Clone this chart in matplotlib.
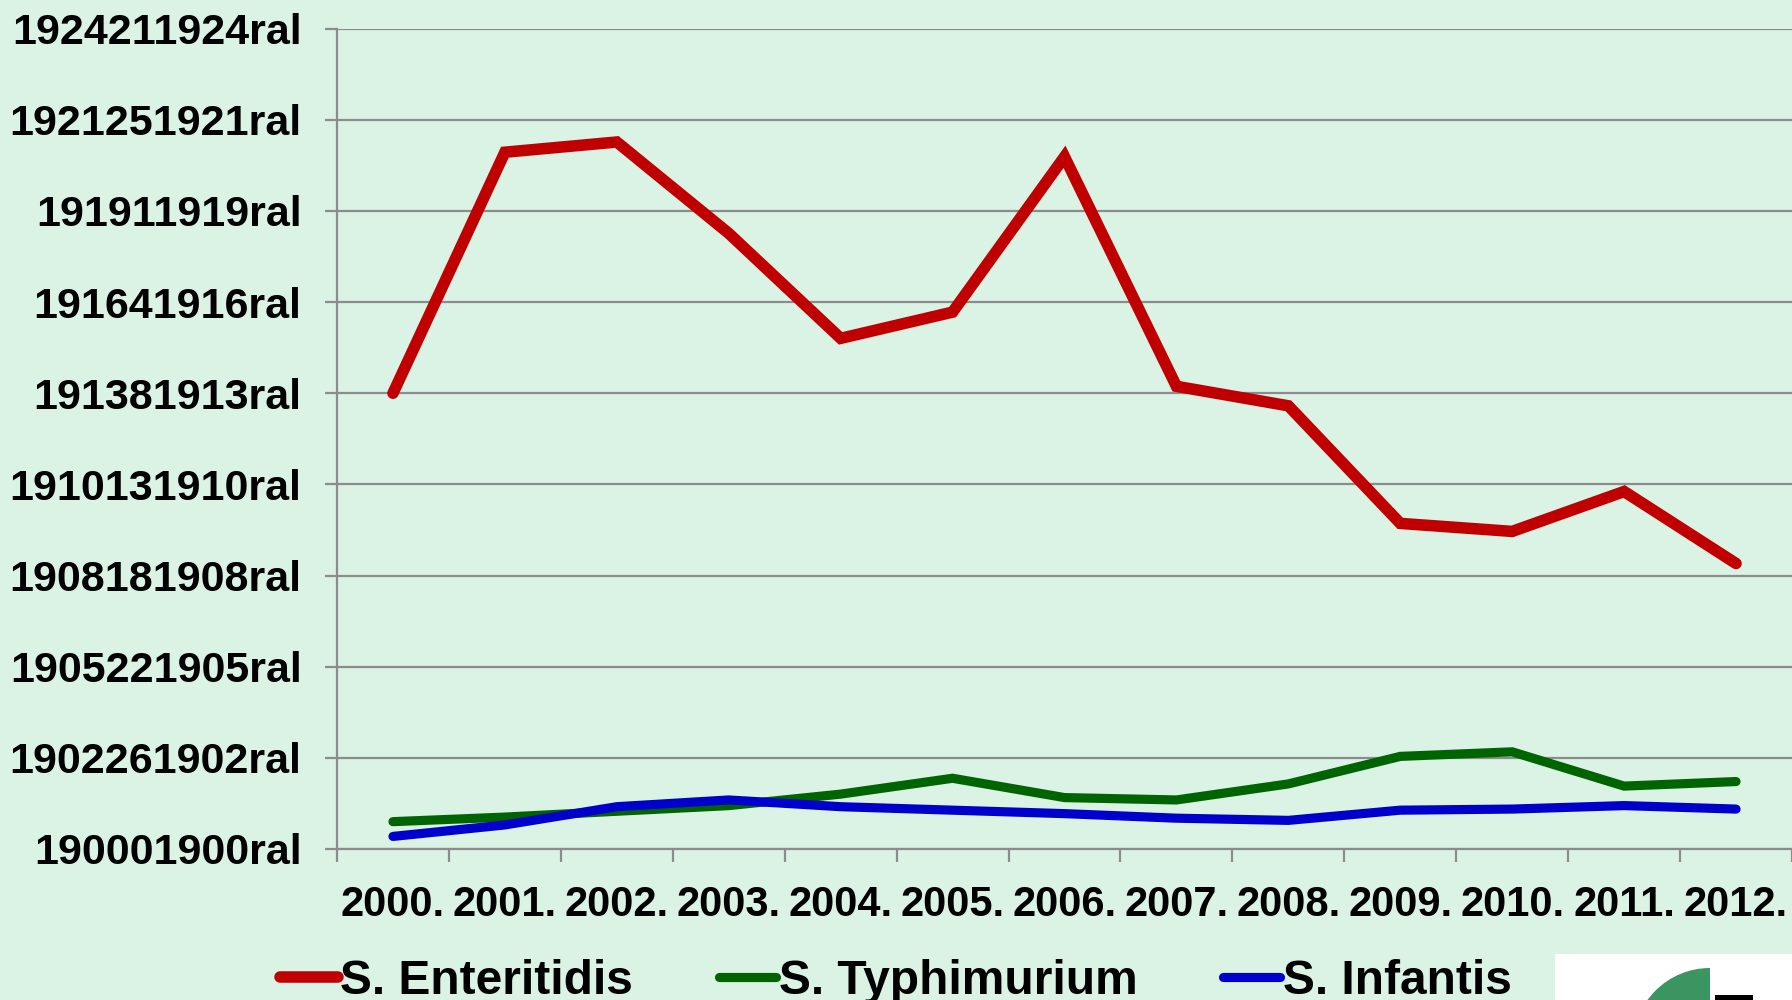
import matplotlib
matplotlib.use("Agg")
import matplotlib.pyplot as plt
from matplotlib.patches import Rectangle, Wedge
from matplotlib.transforms import IdentityTransform
import numpy as np

years = ["2000.", "2001.", "2002.", "2003.", "2004.", "2005.", "2006.",
         "2007.", "2008.", "2009.", "2010.", "2011.", "2012."]
enteritidis = [2500, 3822, 3878, 3377, 2801, 2945, 3797, 2538, 2431, 1786, 1742, 1961, 1566]
typhimurium = [150, 175, 207, 238, 301, 388, 282, 269, 357, 508, 533, 345, 370]
infantis = [69, 132, 232, 269, 232, 213, 194, 169, 157, 213, 219, 238, 219]
y_ticks = [0, 500, 1000, 1500, 2000, 2500, 3000, 3500, 4000, 4500]
y_labels = ["190001900ral", "1902261902ral", "1905221905ral", "1908181908ral",
            "1910131910ral", "191381913ral", "191641916ral", "191911919ral",
            "1921251921ral", "1924211924ral"]
series_names = ["S. Enteritidis", "S. Typhimurium", "S. Infantis"]

BG = "#DBF3E5"
GRID = "#8C8C8C"
FONT = ["Liberation Sans", "DejaVu Sans"]

plt.rcParams["font.family"] = FONT
plt.rcParams["font.weight"] = "bold"

fig = plt.figure(figsize=(17.92, 10), dpi=100, facecolor=BG)
ax = fig.add_axes([337 / 1792, 1 - 849 / 1000, 1 - 337 / 1792, (849 - 28.6) / 1000])
ax.set_facecolor(BG)

x = np.arange(len(years))
lr, = ax.plot(x, enteritidis, color="#C00000", lw=8.3, solid_capstyle="round",
              solid_joinstyle="miter", label=series_names[0], zorder=3)
lg, = ax.plot(x, typhimurium, color="#006400", lw=6.6, solid_capstyle="round",
              solid_joinstyle="miter", label=series_names[1], zorder=3)
lb, = ax.plot(x, infantis, color="#0000CC", lw=6.6, solid_capstyle="round",
              solid_joinstyle="miter", label=series_names[2], zorder=4)

ax.set_xlim(-0.5, len(years) - 0.5)
ax.set_ylim(0, 4500)
ax.set_yticks(y_ticks)
ax.set_yticklabels(y_labels, fontsize=31, fontweight="bold")
ax.yaxis.grid(True, color=GRID, lw=1.6)
ax.set_axisbelow(True)

ax.set_xticks(x)
ax.set_xticklabels(years, fontsize=30, fontweight="bold")
ax.set_xticks(np.arange(-0.5, len(years), 1.0), minor=True)
ax.tick_params(axis="x", which="major", length=0, pad=26)
ax.tick_params(axis="x", which="minor", length=9, width=1.6, color=GRID, direction="out")
ax.tick_params(axis="y", which="major", length=9, width=1.6, color=GRID, direction="out", pad=16.5)

for s in ["top", "right"]:
    ax.spines[s].set_visible(False)
for s in ["left", "bottom"]:
    ax.spines[s].set_color(GRID)
    ax.spines[s].set_linewidth(1.6)

leg = fig.legend(handles=[lr, lg, lb], labels=series_names, loc="center left",
                 bbox_to_anchor=(280 / 1792, 1 - 981 / 1000), ncol=3, frameon=False,
                 prop={"family": FONT, "weight": "bold", "size": 34.5},
                 handlelength=1.2, handletextpad=0.06, columnspacing=1.78,
                 borderpad=0, borderaxespad=0)

# logo fragment at bottom right
idt = IdentityTransform()
fig.patches.append(Rectangle((1555, 0), 240, 46, transform=idt, facecolor="white",
                             edgecolor="none", figure=fig))
fig.patches.append(Wedge((1710, -45), 77, 90, 180, transform=idt, facecolor="#3A9560",
                         edgecolor="none", figure=fig))
fig.patches.append(Rectangle((1715, 0), 38, 5, transform=idt, facecolor="black",
                             edgecolor="none", figure=fig))

fig.savefig("out.png", dpi=100, facecolor=BG)
